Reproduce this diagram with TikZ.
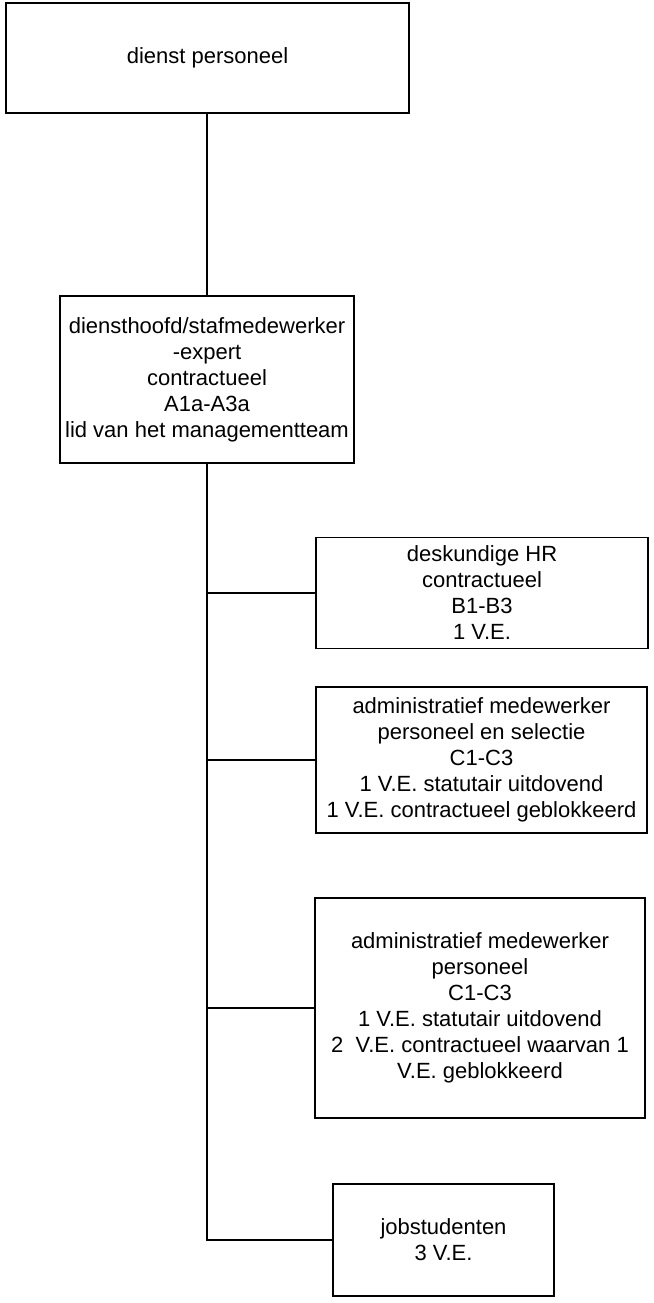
\documentclass[tikz,border=0pt]{standalone}
\usepackage{fontspec}
\setmainfont{Liberation Sans}
\begin{document}
\begin{tikzpicture}[x=1pt,y=-1pt,
  box/.style={draw=black,line width=1.5pt,align=center,inner sep=0pt,
    font=\fontsize{22}{26}\selectfont},
  conn/.style={draw=black,line width=1.5pt}]
\useasboundingbox (0,0) rectangle (653,1303);
\node[box,minimum width=403pt,minimum height=110pt] (top) at (207.5,58) {dienst personeel};
\node[box,minimum width=294pt,minimum height=167pt] (mgr) at (207,379.5)
  {diensthoofd/stafmedewerker\\-expert\\contractueel\\A1a-A3a\\lid van het managementteam};
\node[box,minimum width=332pt,minimum height=111pt] (hr) at (482,593)
  {deskundige HR\\contractueel\\B1-B3\\1 V.E.};
\node[box,minimum width=331pt,minimum height=146pt] (adm1) at (481.5,760)
  {administratief medewerker\\personeel en selectie\\C1-C3\\1 V.E. statutair uitdovend\\1 V.E. contractueel geblokkeerd};
\node[box,minimum width=330pt,minimum height=220pt] (adm2) at (480,1008)
  {administratief medewerker\\personeel\\C1-C3\\1 V.E. statutair uitdovend\\2\ \ V.E. contractueel waarvan 1\\V.E. geblokkeerd};
\node[box,minimum width=221pt,minimum height=112pt] (job) at (443.5,1240)
  {jobstudenten\\3 V.E.};
\draw[conn] (top.south -| mgr.north) -- (mgr.north);
\draw[conn] (mgr.south) |- (job.west);
\draw[conn] (mgr.south) |- (hr.west);
\draw[conn] (mgr.south) |- (adm1.west);
\draw[conn] (mgr.south) |- (adm2.west);
\end{tikzpicture}
\end{document}
